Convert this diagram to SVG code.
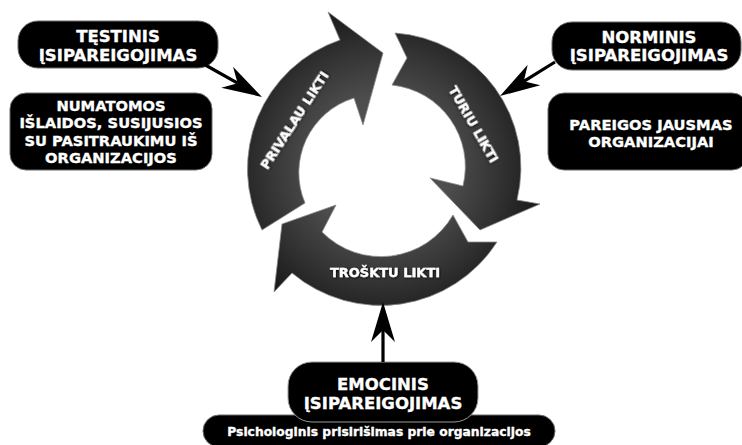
<svg xmlns="http://www.w3.org/2000/svg" width="742" height="445" viewBox="0 0 742 445">
<defs>
<style>
.box{fill:#000;stroke:#6a6a6a;stroke-width:1}
.bt{font-family:"DejaVu Sans",Verdana,sans-serif;font-weight:bold;fill:#fff;stroke:#fff;stroke-width:0.35;text-anchor:middle}
.h{font-size:16.5px}
.d{font-size:14.7px}
.s{font-size:12.3px}
.al{font-family:"DejaVu Sans",Verdana,sans-serif;font-weight:bold;font-size:13px;fill:#fff;stroke:#fff;stroke-width:0.3;text-anchor:middle;filter:url(#sh)}
.arc{fill:url(#g);stroke:#8a8a8a;stroke-width:0.8}
.con{stroke:#000;stroke-width:3.2;fill:none;marker-end:url(#ah)}
</style>
<radialGradient id="g" gradientUnits="userSpaceOnUse" cx="382" cy="166" r="170">
<stop offset="0.4" stop-color="#4e4e4e"/>
<stop offset="0.7" stop-color="#323232"/>
<stop offset="1" stop-color="#141414"/>
</radialGradient>
<filter id="sh" x="-20%" y="-50%" width="140%" height="200%">
<feDropShadow dx="0.8" dy="0.8" stdDeviation="0.8" flood-color="#000" flood-opacity="0.9"/>
</filter>
<marker id="ah" markerUnits="userSpaceOnUse" markerWidth="44" markerHeight="28" viewBox="-42 -14 44 28" refX="-28" refY="0" orient="auto">
<path d="M0,0 L-40,-12 L-28,0 L-40,12 Z" fill="#000"/>
</marker>
</defs>
<rect width="742" height="445" fill="#fff"/>

<g id="arrow-privalau">
<path class="arc" d="M262,230 A136,136 0 0 1 340,40 L328,12 L383,53 L363,125 L354,98 A78,78 0 0 0 305,203 Z"/>
<text class="al" transform="translate(294,120) rotate(-57)" y="4.5">PRIVALAU LIKTI</text>
</g>
<g id="arrow-turiu">
<path class="arc" d="M395,33 A135,135 0 0 1 517,200 L540,204 L480,230 L430,178 L463,186 A82,82 0 0 0 392,85 L407,58 Z"/>
<text class="al" transform="translate(474,124) rotate(60)" y="4.5">TURIU LIKTI</text>
</g>
<g id="arrow-trosktu">
<path class="arc" d="M497,242 A138,138 0 0 1 292,273 L274,292 L282,224 L336,205 L322,232 A83,83 0 0 0 453,215 L468,242 Z"/>
<text class="al" x="385" y="277">TROŠKTU LIKTI</text>
</g>

<g id="n-testinis">
<rect class="box" x="18" y="21" width="200" height="47" rx="20"/>
<text class="bt h" x="118" y="42">TĘSTINIS</text>
<text class="bt h" x="118" y="61">ĮSIPAREIGOJIMAS</text>
</g>
<g id="n-numatomos">
<rect class="box" x="10" y="93" width="202" height="77" rx="16"/>
<text class="bt d" x="111" y="110.5">NUMATOMOS</text>
<text class="bt d" x="111" y="128">IŠLAIDOS, SUSIJUSIOS</text>
<text class="bt d" x="111" y="145.5">SU PASITRAUKIMU IŠ</text>
<text class="bt d" x="111" y="163">ORGANIZACIJOS</text>
</g>
<g id="n-norminis">
<rect class="box" x="552" y="22" width="189" height="48" rx="20"/>
<text class="bt h" x="649" y="43">NORMINIS</text>
<text class="bt h" x="649" y="61">ĮSIPAREIGOJIMAS</text>
</g>
<g id="n-pareigos">
<rect class="box" x="548" y="93" width="200" height="77" rx="16"/>
<text class="bt d" x="651" y="130">PAREIGOS JAUSMAS</text>
<text class="bt d" x="651" y="147">ORGANIZACIJAI</text>
</g>
<g id="n-psichologinis">
<rect class="box" x="203" y="415" width="352" height="32" rx="16"/>
<text class="bt s" x="379" y="436">Psichologinis prisirišimas prie organizacijos</text>
</g>
<g id="n-emocinis">
<rect class="box" x="288" y="362" width="190" height="60" rx="24" style="stroke:#999"/>
<text class="bt h" x="383" y="390">EMOCINIS</text>
<text class="bt h" x="383" y="409">ĮSIPAREIGOJIMAS</text>
</g>

<g id="connectors">
<line class="con" x1="200" y1="62" x2="237.6" y2="83.2"/>
<line class="con" x1="555" y1="62" x2="523.8" y2="81.3"/>
<line class="con" x1="383" y1="362" x2="383" y2="330"/>
</g>
</svg>
